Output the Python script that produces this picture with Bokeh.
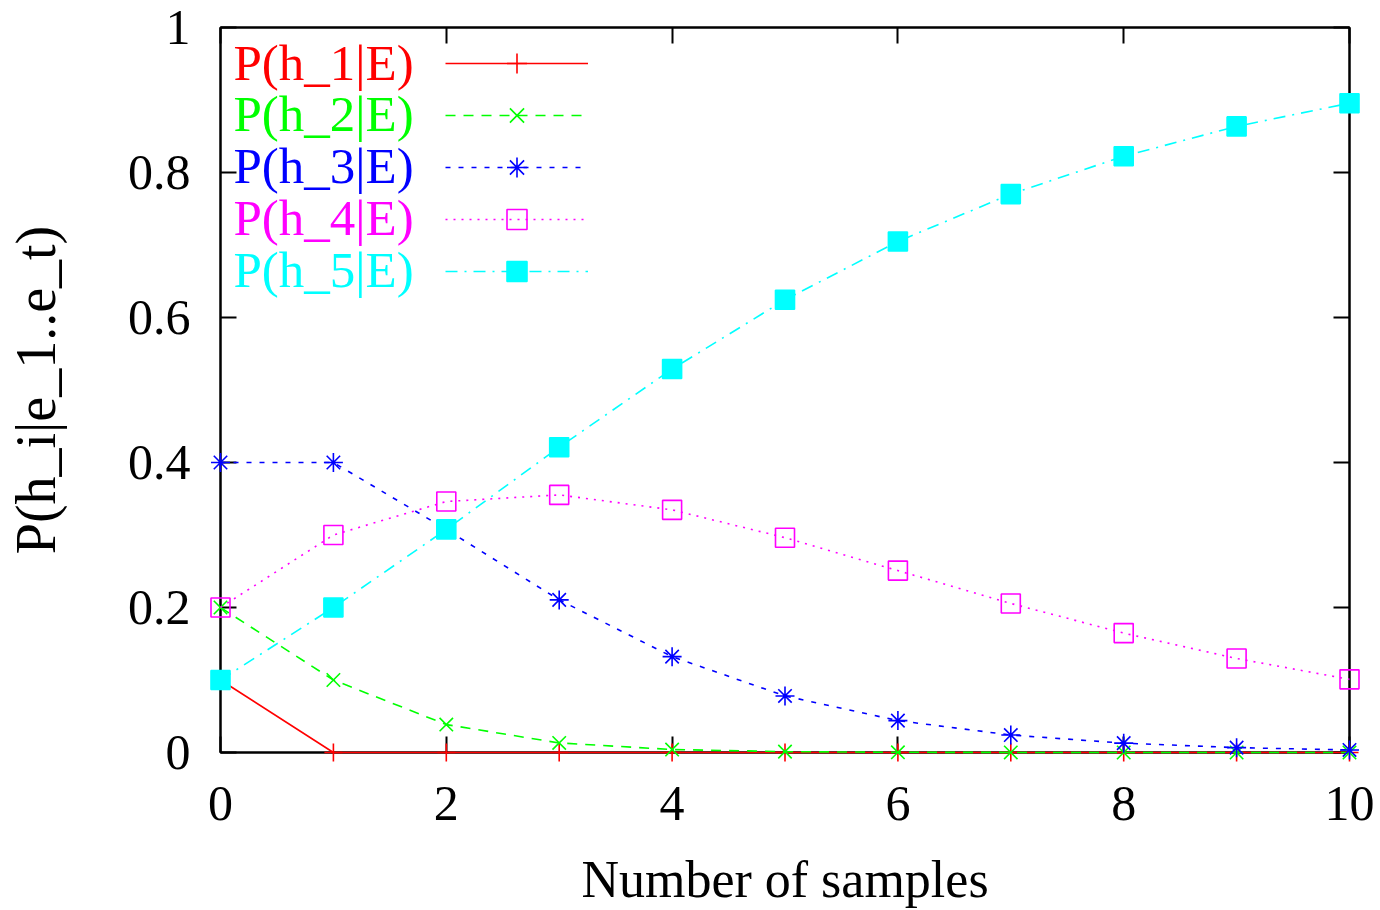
from bokeh.plotting import figure
from bokeh.models import (LinearAxis, FixedTicker, Legend, LegendItem, Label,
                          Range1d, CustomJSTickFormatter)
from bokeh.embed import file_html
from bokeh.resources import INLINE

# ---- data ----
samples = [0, 1, 2, 3, 4, 5, 6, 7, 8, 9, 10]
p_h1 = [0.1, 0.0, 0.0, 0.0, 0.0, 0.0, 0.0, 0.0, 0.0, 0.0, 0.0]
p_h2 = [0.2, 0.1, 0.0385, 0.0132, 0.0041, 0.0012, 0.0003, 0.0001, 0.0, 0.0, 0.0]
p_h3 = [0.4, 0.4, 0.3077, 0.2105, 0.1322, 0.0780, 0.0440, 0.0241, 0.0129, 0.0067, 0.0035]
p_h4 = [0.2, 0.3, 0.3462, 0.3553, 0.3347, 0.2963, 0.2509, 0.2056, 0.1647, 0.1297, 0.1009]
p_h5 = [0.1, 0.2, 0.3077, 0.4211, 0.5289, 0.6244, 0.7048, 0.7702, 0.8224, 0.8636, 0.8956]
series_names = ["P(h_1|E)", "P(h_2|E)", "P(h_3|E)", "P(h_4|E)", "P(h_5|E)"]
x_ticks = [0, 2, 4, 6, 8, 10]
x_tick_labels = ["0", "2", "4", "6", "8", "10"]
y_ticks = [0, 0.2, 0.4, 0.6, 0.8, 1.0]
y_tick_labels = ["0", "0.2", "0.4", "0.6", "0.8", "1"]
x_title = "Number of samples"
y_title = "P(h_i|e_1..e_t)"

# ---- styles ----
FONT = "Liberation Serif"
FS = "50px"
colors = ["#ff0000", "#00ff00", "#0000ff", "#ff00ff", "#00ffff"]
dashes = ["solid", "10 8", "5 8", "2 6", "12 7 2 7"]
markers = ["cross", "x", "asterisk", "square", "square"]
fills = [None, None, None, None, "#00ffff"]
msize = [18, 19, 19, 19, 19]

p = figure(width=1380, height=910, output_backend="svg", toolbar_location=None,
           x_range=Range1d(0, 10), y_range=Range1d(0, 1),
           min_border_left=220, min_border_right=31, min_border_top=27,
           min_border_bottom=158)
p.background_fill_color = "white"
p.border_fill_color = "white"
p.xgrid.visible = False
p.ygrid.visible = False
p.outline_line_color = "black"
p.outline_line_width = 2

p.xaxis.ticker = FixedTicker(ticks=x_ticks)
p.yaxis.ticker = FixedTicker(ticks=y_ticks)
p.xaxis.major_label_overrides = {t: l for t, l in zip(x_ticks, x_tick_labels)}
p.yaxis.major_label_overrides = {t: l for t, l in zip(y_ticks, y_tick_labels)}
p.xaxis.axis_label = x_title
p.yaxis.axis_label = y_title

for ax in [p.xaxis[0], p.yaxis[0]]:
    ax.axis_line_color = "black"
    ax.axis_line_width = 2
    ax.major_tick_in = 16
    ax.major_tick_out = 0
    ax.major_tick_line_width = 2
    ax.minor_tick_line_color = None
    ax.major_label_text_font = FONT
    ax.major_label_text_font_size = FS
    ax.major_label_text_color = "black"
    ax.axis_label_text_font = FONT
    ax.axis_label_text_font_size = FS
    ax.axis_label_text_font_style = "normal"
    ax.axis_label_text_color = "black"
p.xaxis.axis_label_text_font_size = "52px"
p.yaxis.axis_label_text_font_size = "56px"
p.xaxis.major_label_standoff = 34
p.yaxis.major_label_standoff = 30
p.xaxis.axis_label_standoff = 28
p.yaxis.axis_label_standoff = 58

# mirrored ticks on top and right
for side, ticks in [("above", x_ticks), ("right", y_ticks)]:
    ax = LinearAxis(ticker=FixedTicker(ticks=ticks),
                    formatter=CustomJSTickFormatter(code="return ''"),
                    axis_line_color="black", axis_line_width=2,
                    major_tick_in=16, major_tick_out=0, major_tick_line_width=2,
                    minor_tick_line_color=None,
                    major_label_text_font_size="0px", major_label_standoff=0)
    p.add_layout(ax, side)

series = [p_h1, p_h2, p_h3, p_h4, p_h5]
items = []
for i, ys in enumerate(series):
    ln = p.line(samples, ys, line_color=colors[i], line_width=1.6,
                line_dash=dashes[i], level="overlay")
    sc = p.scatter(samples, ys, marker=markers[i], size=msize[i],
                   line_color=colors[i], line_width=1.6,
                   fill_color=fills[i], level="overlay")
    items.append(LegendItem(label=" ", renderers=[ln, sc]))

legend = Legend(items=items, location=(225, 456), padding=0, margin=0,
                spacing=2, glyph_width=143, glyph_height=50, label_height=50,
                label_width=0, label_standoff=0, label_text_font_size="1px",
                border_line_color=None, background_fill_alpha=0)
p.add_layout(legend, "center")

pitch = 51.75
for i, name in enumerate(series_names):
    p.add_layout(Label(x=13, y=690 - i * pitch, x_units="screen", y_units="screen",
                       text=name, text_color=colors[i], text_font=FONT,
                       text_font_size="51px", text_align="left",
                       text_baseline="alphabetic"))

open("out.html", "w").write(file_html(p, INLINE))
